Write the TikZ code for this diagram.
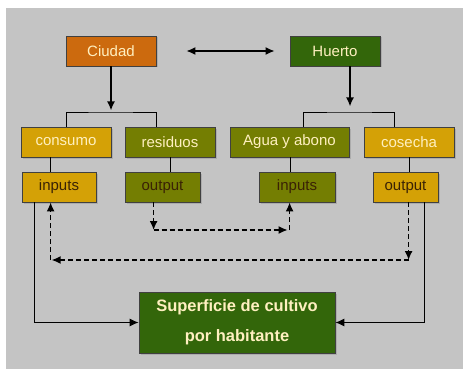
\documentclass[tikz,border=0pt]{standalone}
\usepackage{fontspec}
\setmainfont{Liberation Sans}
\usetikzlibrary{arrows.meta,shadows}

\definecolor{fondo}{HTML}{C4C4C4}
\definecolor{naranja}{HTML}{CC6A0E}
\definecolor{verde}{HTML}{33660A}
\definecolor{oro}{HTML}{D4A106}
\definecolor{oliva}{HTML}{747E02}
\definecolor{crema}{HTML}{FFF0C0}
\definecolor{marron}{HTML}{3A2205}

\begin{document}
\begin{tikzpicture}[x=1pt,y=-1pt,
    caja/.style={draw=black!75,line width=0.8pt,minimum height=30pt,
      inner sep=0pt,font=\fontsize{15}{16}\selectfont,text=crema,
      drop shadow={shadow xshift=1.5pt,shadow yshift=-1.5pt,opacity=0.35}},
    flecha/.style={line width=1.4pt,-{Latex[length=9pt,width=8pt]}},
    punteada/.style={flecha,line width=1.5pt,dash pattern=on 5pt off 3pt},
    linea/.style={line width=0.9pt}
  ]
  \useasboundingbox (0,0) rectangle (463,369);
  \fill[fondo] (6,8) rectangle (463,369);

  %first row
  \node[caja,fill=naranja,minimum width=90pt] (ciudad) at (111,51) {Ciudad};
  \node[caja,fill=verde,minimum width=90pt] (huerto) at (335,51) {Huerto};
  \draw[line width=1.4pt,{Latex[length=9pt,width=8pt]}-{Latex[length=9pt,width=8pt]}]
    (ciudad.east) ++(30,0) coordinate (ida) -- ([xshift=-15]huerto.west) coordinate (vuelta);

  %second row
  \node[caja,fill=oro,minimum width=90pt] (consumo) at (66,142) {consumo};
  \node[caja,fill=oliva,minimum width=90pt] (residuos) at (170,142) {residuos};
  \node[caja,fill=oliva,minimum width=119pt] (agua) at (289.5,142) {Agua y abono};
  \node[caja,fill=oro,minimum width=90pt] (cosecha) at (409,142) {cosecha};

  %third row
  \node[caja,fill=oro,minimum width=74pt,text=marron] (in1) at (59,187) {inputs};
  \node[caja,fill=oliva,minimum width=75pt,text=marron] (out1) at (162.5,187) {output};
  \node[caja,fill=oliva,minimum width=76pt,text=marron] (in2) at (297,187) {inputs};
  \node[caja,fill=oro,minimum width=65pt,text=marron] (out2) at (405.5,187) {output};

  %result
  \node[caja,fill=verde,minimum width=196pt,minimum height=61pt,align=center,
    font=\fontsize{16.5}{30}\selectfont\bfseries] (sup) at (237,322.5)
    {Superficie de cultivo\\por habitante};

  %brackets
  \draw[flecha] (ciudad.south) -- ++(0,44);
  \draw[linea] ([xshift=0]consumo.north) |- (110,112) -| ([xshift=-14]residuos.north);
  \draw[flecha] ([xshift=15]huerto.south) -- ++(0,40);
  \draw[linea] ([xshift=13.5]agua.north) |- (350,112) -| ([xshift=-15]cosecha.north);

  %row to row
  \draw[linea] (consumo.south -| in1.south west) ++(29,0) -- ++(0,15);
  \draw[linea] (residuos.south) -- (residuos.south |- out1.north);
  \draw[linea] (agua.south) ++(0.5,0) -- ++(0,15);
  \draw[linea] (cosecha.south) -- (cosecha.south |- out2.north);

  %exchange residuos / agua
  \coordinate (r1) at ([xshift=29]out1.south west |- 0,230);
  \coordinate (r2) at ([xshift=31]in2.south west |- 0,230);
  \draw[punteada] ([xshift=29]out1.south west) -- (r1);
  \draw[punteada] (r1) -- ([xshift=-2]r2);
  \draw[punteada] (r2) -- ([xshift=31]in2.south west);

  %return cosecha / consumo
  \coordinate (c1) at ([xshift=36]out2.south west |- 0,260);
  \coordinate (c2) at ([xshift=29]in1.south west |- 0,260);
  \draw[punteada] ([xshift=36]out2.south west) -- (c1);
  \draw[punteada] (c1) -- ([xshift=1]c2);
  \draw[punteada] (c2) -- ([xshift=29]in1.south west);

  %to the result
  \draw[flecha,line width=1pt] ([xshift=13]in1.south west) |- (sup.west);
  \draw[flecha,line width=1pt] ([xshift=-14]out2.south east) |- (sup.east);
\end{tikzpicture}
\end{document}
